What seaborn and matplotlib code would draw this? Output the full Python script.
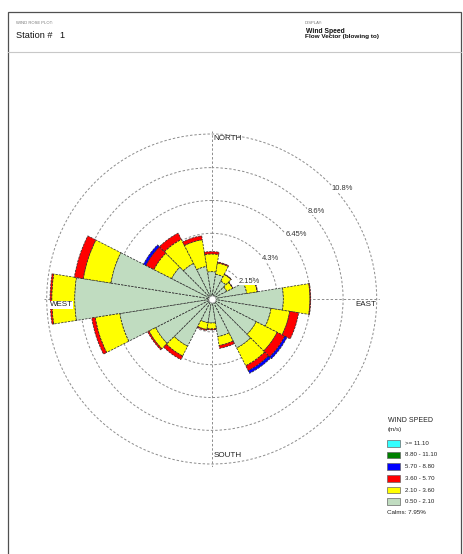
import numpy as np
import matplotlib
matplotlib.use("Agg")
import matplotlib.pyplot as plt
from matplotlib.patches import Rectangle
from matplotlib.lines import Line2D
import seaborn as sns

# ---- data -------------------------------------------------------------
# sector centres (flow vector, degrees clockwise from north), 20 sectors of 18 deg
directions = list(range(0, 360, 18))

# frequency (%) per wind speed class and sector
freq_050_210 = [1.79, 1.64, 1.31, 1.11, 2.32, 4.69, 3.93, 3.27, 3.60, 2.49,
                1.57, 1.57, 3.47, 4.12, 6.09, 8.97, 6.68, 2.95, 2.62, 2.16]
freq_210_360 = [1.16, 0.75, 0.49, 0.43, 0.69, 1.74, 1.24, 1.54, 1.31, 0.59,
                0.39, 0.45, 0.72, 0.49, 1.63, 1.50, 1.83, 1.30, 1.76, 1.77]
freq_360_570 = [0.15, 0.06, 0.03, 0.03, 0.03, 0.05, 0.59, 0.56, 0.36, 0.19,
                0.06, 0.07, 0.26, 0.10, 0.23, 0.11, 0.59, 0.59, 0.46, 0.26]
freq_570_880 = [0.00, 0.00, 0.00, 0.00, 0.00, 0.00, 0.00, 0.16, 0.19, 0.00,
                0.00, 0.00, 0.00, 0.00, 0.00, 0.00, 0.00, 0.17, 0.00, 0.00]
freq_880_1110 = [0.0] * 20
freq_ge_1110 = [0.0] * 20

speed_labels = ["0.50 - 2.10", "2.10 - 3.60", "3.60 - 5.70",
                "5.70 - 8.80", "8.80 - 11.10", ">= 11.10"]
speed_colors = ["#C0DCC0", "#FFFF00", "#FF0000", "#0000FF", "#008000", "#33FFFF"]

ring_values = [2.15, 4.3, 6.45, 8.6, 10.8]
ring_labels = ["2.15%", "4.3%", "6.45%", "8.6%", "10.8%"]
calms_pct = 7.95

# ---- style ------------------------------------------------------------
sns.set_theme(style="white")
plt.rcParams["font.family"] = ["Liberation Sans", "DejaVu Sans"]

W, H = 464, 554
fig = plt.figure(figsize=(W / 100, H / 100), dpi=100)
fig.patch.set_facecolor("white")


def fx(x):
    return x / W


def fy(y):
    return 1 - y / H


# ---- page frame and header -------------------------------------------
fig.add_artist(Rectangle((fx(8.5), fy(560)), fx(461.5) - fx(8.5), fy(11.5) - fy(560),
                         transform=fig.transFigure, fill=False,
                         edgecolor="#505050", linewidth=0.9))
fig.add_artist(Line2D([fx(8.5), fx(461.5)], [fy(51.5), fy(51.5)],
                      transform=fig.transFigure, color="#c8c8c8", linewidth=0.8))

fig.text(fx(16.5), fy(23.3), "WIND ROSE PLOT:", fontsize=3.0, color="#777777", va="center")
fig.text(fx(16.5), fy(35), "Station #   1", fontsize=6.6, color="#111111", va="center")
fig.text(fx(305), fy(23.3), "DISPLAY:", fontsize=3.0, color="#777777", va="center")
fig.text(fx(306.5), fy(31.3), "Wind Speed", fontsize=4.9, fontweight="bold",
         color="#111111", va="center")
fig.text(fx(305), fy(36.9), "Flow Vector (blowing to)", fontsize=4.6, fontweight="bold",
         color="#111111", va="center")

# ---- wind rose --------------------------------------------------------
cx, cy = 211.7, 299.0
r_max = 11.0
px_per_pct = 165.0 / 10.8
rad_px = r_max * px_per_pct
ax = fig.add_axes([fx(cx - rad_px), fy(cy + rad_px), 2 * rad_px / W, 2 * rad_px / H],
                  projection="polar")
ax.set_theta_zero_location("N")
ax.set_theta_direction(-1)
ax.set_ylim(0, r_max)
ax.set_facecolor("none")
ax.spines["polar"].set_visible(False)
ax.set_rgrids(ring_values, labels=[""] * len(ring_values))
ax.set_thetagrids([0, 90, 180, 270], labels=[""] * 4)
ax.grid(True, color="#8c8c8c", linestyle=(0, (2.5, 2)), linewidth=0.7)
ax.set_axisbelow(True)
ax.tick_params(pad=0)

theta = np.deg2rad(np.array(directions, dtype=float))
width = np.deg2rad(18)
classes = [freq_050_210, freq_210_360, freq_360_570,
           freq_570_880, freq_880_1110, freq_ge_1110]
bottom = np.zeros(len(directions))
for vals, col in zip(classes, speed_colors):
    h = np.array(vals, dtype=float)
    m = h > 0
    if m.any():
        ax.bar(theta[m], h[m], width=width, bottom=bottom[m], color=col,
               edgecolor="#303030", linewidth=0.55, linestyle=(0, (3, 1.5)),
               align="center", zorder=2)
    bottom = bottom + h

# calms circle at the centre
ax.scatter([0], [0], s=26, c="white", edgecolors="#9a9a9a", linewidths=0.5, zorder=5)

# compass labels
lab_kw = dict(fontsize=5.8, color="#222222", va="center", ha="left")
fig.text(fx(213.5), fy(138.5), "NORTH", **lab_kw)
fig.text(fx(213.5), fy(455.5), "SOUTH", **lab_kw)
fig.text(fx(355), fy(305), "EAST", **lab_kw)
fig.text(fx(49.5), fy(305), "WEST", bbox=dict(facecolor="white", edgecolor="none", pad=0.4),
         **lab_kw)

# ring labels
ring_pos = [(249, 281.5), (270, 258.5), (296, 235), (316.5, 211.5), (342.5, 188.5)]
for (px, py), txt in zip(ring_pos, ring_labels):
    fig.text(fx(px), fy(py), txt, fontsize=5.4, color="#333333", ha="center", va="center",
             bbox=dict(facecolor="white", edgecolor="none", pad=0.3), zorder=6)

# ---- legend -----------------------------------------------------------
fig.text(fx(388), fy(421), "WIND SPEED", fontsize=5.0, color="#222222", va="center")
fig.text(fx(388), fy(429.5), "(m/s)", fontsize=4.5, color="#222222", va="center")
row_y = [443.3, 455.0, 466.6, 478.3, 490.0, 501.6]
for y, lab, col in zip(row_y, speed_labels[::-1], speed_colors[::-1]):
    fig.add_artist(Rectangle((fx(386.7), fy(y + 3.4)), fx(400) - fx(386.7), fy(y - 3.4) - fy(y + 3.4),
                             transform=fig.transFigure, facecolor=col,
                             edgecolor="#666666", linewidth=0.5))
    fig.text(fx(405), fy(y), lab, fontsize=4.4, color="#222222", va="center")
fig.text(fx(386.7), fy(512.5), f"Calms: {calms_pct:.2f}%", fontsize=4.5,
         color="#222222", va="center")

fig.savefig("out.png", dpi=100, facecolor="white")
